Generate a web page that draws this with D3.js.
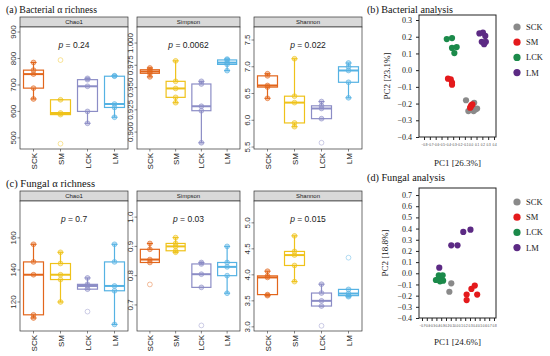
<!DOCTYPE html>
<html><head><meta charset="utf-8">
<script src="https://cdn.jsdelivr.net/npm/d3@7"></script>
<style>body{margin:0;background:#fff} svg{display:block}</style>
</head><body><svg id="c" width="550" height="356"></svg>
<script>
// ---------- data ----------
const groups = ["SCK","SM","LCK","LM"];
const groupColors = ["#E2661C","#EFC21A","#8C8DC6","#55B2E3"];
const facetNames = ["Chao1","Simpson","Shannon"];

const bacChao1   = [[647,688,741,756,785],[478,588,594,644,794],[555,600,695,720,725],[578,615,628,733,735]];
const bacSimpson = [[0.962,0.966,0.968,0.970,0.972],[0.933,0.939,0.949,0.957,0.980],[0.888,0.924,0.929,0.954,0.957],[0.969,0.976,0.978,0.981,0.982]];
const bacShannon = [[6.41,6.62,6.65,6.83,6.87],[5.88,5.95,6.33,6.45,7.15],[5.58,6.03,6.22,6.27,6.35],[6.42,6.71,6.93,7.00,7.07]];
const funChao1   = [[110,112,137,145,156],[120,134,137,144,151],[114,128,130,131,135],[106,127,130,145,156]];
const funSimpson = [[0.77,0.845,0.855,0.89,0.91],[0.88,0.885,0.90,0.91,0.93],[0.63,0.76,0.805,0.84,0.845],[0.74,0.80,0.83,0.845,0.90]];
const funShannon = [[3.60,3.62,3.95,3.98,4.07],[3.87,4.18,4.38,4.45,4.75],[3.02,3.40,3.50,3.65,3.82],[3.58,3.60,3.64,3.72,4.33]];

const bacChao1Ticks   = [500,600,700,800,900];
const bacSimpsonTicks = [0.900,0.925,0.950,0.975,1.000];
const bacShannonTicks = [5.5,6.0,6.5,7.0,7.5];
const funChao1Ticks   = [120,140,160];
const funSimpsonTicks = [0.7,0.8,0.9,1.0];
const funShannonTicks = [3.0,3.5,4.0,4.5,5.0];
const bacPValues = ["0.24","0.0062","0.022"];
const funPValues = ["0.7","0.03","0.015"];

const pcaGroups = ["SCK","SM","LCK","LM"];
const pcaColors = ["#8A8A8A","#E41A1C","#1B8A4A","#5C2A84"];
const bacPcaSCK = [[-0.08,-0.18],[-0.04,-0.245],[0.06,-0.195],[0.11,-0.23],[0.05,-0.245],[0.08,-0.235]];
const bacPcaSM  = [[-0.389,-0.051],[-0.342,-0.055],[-0.32,-0.075],[-0.32,-0.087],[-0.01,-0.225],[0.01,-0.21],[0.03,-0.205],[0.0,-0.22]];
const bacPcaLCK = [[-0.41,0.186],[-0.32,0.192],[-0.32,0.133],[-0.24,0.138],[-0.28,0.102]];
const bacPcaLM  = [[0.15,0.22],[0.21,0.225],[0.25,0.205],[0.19,0.17],[0.23,0.155],[0.26,0.17]];
const funPcaSCK = [[-0.09,-0.09],[-0.13,-0.165]];
const funPcaSM  = [[0.23,-0.19],[0.23,-0.24],[0.33,-0.14],[0.40,-0.11],[0.45,-0.19]];
const funPcaLCK = [[-0.41,-0.06],[-0.35,-0.018],[-0.31,-0.03],[-0.27,-0.018],[-0.26,-0.066],[-0.325,-0.072],[-0.367,-0.054]];
const funPcaLM  = [[-0.34,0.05],[-0.09,0.25],[0.04,0.25],[0.16,0.37],[0.31,0.39]];
const bacPcaXTicks = d3.range(-8,5).map(v=>v/10);
const bacPcaYTicks = [-0.4,-0.3,-0.2,-0.1,0.0,0.1,0.2,0.3];
const funPcaXTicks = d3.range(-7,9).map(v=>v/10);
const funPcaYTicks = [-0.4,-0.3,-0.2,-0.1,0.0,0.1,0.2,0.3,0.4,0.5,0.6,0.7];

// ---------- drawing ----------
const svg = d3.select("#c");
const SANS = "Liberation Sans, Arial, sans-serif";
const SERIF = "Liberation Serif, Times New Roman, serif";

function facet(cfg){
  const {x0,x1,y0,y1,stripH,data,ticks,fmt,domain,name,p} = cfg;
  const g = svg.append("g");
  const x = d3.scalePoint().domain(groups).range([x0,x1]).padding(0.5);
  const y = d3.scaleLinear().domain(domain).range([y1,y0]);
  const bw = (x1-x0)/4*0.74;
  g.append("rect").attr("x",x0).attr("y",y0-stripH).attr("width",x1-x0).attr("height",stripH)
    .attr("fill","#D9D9D9").attr("stroke","#333").attr("stroke-width",0.7);
  g.append("text").attr("x",(x0+x1)/2).attr("y",y0-stripH/2+2).attr("text-anchor","middle")
    .attr("font-family",SANS).attr("font-size",6).attr("fill","#1a1a1a").text(name);
  g.append("rect").attr("x",x0).attr("y",y0).attr("width",x1-x0).attr("height",y1-y0)
    .attr("fill","#fff").attr("stroke","#333").attr("stroke-width",0.7);
  ticks.forEach(t=>{
    const ty=y(t);
    g.append("line").attr("x1",x0-2.5).attr("x2",x0).attr("y1",ty).attr("y2",ty).attr("stroke","#333").attr("stroke-width",0.6);
    g.append("text").attr("transform",`translate(${x0-4.5},${ty}) rotate(-90)`).attr("text-anchor","middle")
      .attr("font-family",SANS).attr("font-size",8).attr("fill","#333").text(fmt(t));
  });
  groups.forEach(gr=>{
    const tx=x(gr);
    g.append("line").attr("x1",tx).attr("x2",tx).attr("y1",y1).attr("y2",y1+2.5).attr("stroke","#333").attr("stroke-width",0.6);
    g.append("text").attr("transform",`translate(${tx+3},${y1+4}) rotate(-90)`).attr("text-anchor","end")
      .attr("font-family",SANS).attr("font-size",8).attr("fill","#1a1a1a").text(gr);
  });
  data.forEach((vals,i)=>{
    const col = groupColors[i];
    const s = vals.slice().sort(d3.ascending);
    const q1=d3.quantile(s,0.25), med=d3.quantile(s,0.5), q3=d3.quantile(s,0.75);
    const iqr=q3-q1, lo=q1-1.5*iqr, hi=q3+1.5*iqr;
    const inside=s.filter(v=>v>=lo&&v<=hi);
    const wlo=d3.min(inside), whi=d3.max(inside);
    const cx=x(groups[i]);
    const bg=g.append("g");
    [[wlo,q1],[q3,whi]].forEach(([a,b])=>{
      if(Math.abs(a-b)>1e-12){
        bg.append("line").attr("x1",cx).attr("x2",cx).attr("y1",y(a)).attr("y2",y(b)).attr("stroke",col).attr("stroke-width",1.2);
      }
    });
    [wlo,whi].forEach(v=>{
      bg.append("line").attr("x1",cx-3).attr("x2",cx+3).attr("y1",y(v)).attr("y2",y(v)).attr("stroke",col).attr("stroke-width",1.1);
    });
    bg.append("rect").attr("x",cx-bw/2).attr("y",y(q3)).attr("width",bw).attr("height",y(q1)-y(q3))
      .attr("fill","#fff").attr("fill-opacity",0.6).attr("stroke",col).attr("stroke-width",1.2);
    bg.append("line").attr("x1",cx-bw/2).attr("x2",cx+bw/2).attr("y1",y(med)).attr("y2",y(med)).attr("stroke",col).attr("stroke-width",2);
    s.forEach(v=>{
      const out = v<lo||v>hi;
      bg.append("circle").attr("cx",cx).attr("cy",y(v)).attr("r",2.4)
        .attr("fill",out?"none":col).attr("fill-opacity",0.4)
        .attr("stroke",col).attr("stroke-opacity",out?0.55:0.75).attr("stroke-width",0.8);
    });
  });
  const pt=g.append("text").attr("x",(x0+x1)/2).attr("y",y0+21).attr("text-anchor","middle")
    .attr("font-family",SANS).attr("font-size",8.5).attr("fill","#1a1a1a");
  pt.append("tspan").attr("font-style","italic").text("p");
  pt.append("tspan").text(" = "+p);
}

const colsX = [[20,128],[137,240],[254,362]];
const fmts = [d3.format("d"), d3.format(".3f"), d3.format(".1f")];
const funFmts = [d3.format("d"), d3.format(".1f"), d3.format(".1f")];
const bacSets = [bacChao1,bacSimpson,bacShannon];
const bacTicks = [bacChao1Ticks,bacSimpsonTicks,bacShannonTicks];
const bacDomains = [[458,919],[0.881,1.018],[5.463,7.743]];
const funSets = [funChao1,funSimpson,funShannon];
const funTicks = [funChao1Ticks,funSimpsonTicks,funShannonTicks];
const funDomains = [[101.9,183],[0.611,1.055],[2.92,5.42]];

for(let k=0;k<3;k++){
  facet({x0:colsX[k][0],x1:colsX[k][1],y0:27,y1:149,stripH:10,data:bacSets[k],ticks:bacTicks[k],fmt:fmts[k],domain:bacDomains[k],name:facetNames[k],p:bacPValues[k]});
  facet({x0:colsX[k][0],x1:colsX[k][1],y0:201,y1:331,stripH:10,data:funSets[k],ticks:funTicks[k],fmt:funFmts[k],domain:funDomains[k],name:facetNames[k],p:funPValues[k]});
}

function title(x,y,t,w){
  svg.append("text").attr("x",x).attr("y",y).attr("font-family",SERIF).attr("font-size",11)
    .attr("fill","#111").attr("textLength",w).attr("lengthAdjust","spacingAndGlyphs").text(t);
}
title(6,13,"(a) Bacterial \u03b1 richness",91);
title(6,187,"(c)  Fungal \u03b1 richness",89);
title(367,13,"(b) Bacterial analysis",86);
title(367,181,"(d) Fungal analysis",78);

function pca(cfg){
  const {x0,x1,y0,y1,xdom,ydom,xticks,yticks,sets,xl,yl,xlY,ylX,legY} = cfg;
  const g=svg.append("g");
  const x=d3.scaleLinear().domain(xdom).range([x0,x1]);
  const y=d3.scaleLinear().domain(ydom).range([y1,y0]);
  g.append("rect").attr("x",x0).attr("y",y0).attr("width",x1-x0).attr("height",y1-y0)
    .attr("fill","none").attr("stroke","#222").attr("stroke-width",1);
  const ya=g.append("g").attr("transform",`translate(${x0},0)`)
    .call(d3.axisLeft(y).tickValues(yticks).tickFormat(d3.format(".1f")).tickSize(3).tickSizeOuter(0));
  ya.select(".domain").remove();
  ya.selectAll("text").attr("font-family",SERIF).attr("font-size",8).attr("fill","#222").attr("dx",-1);
  ya.selectAll("line").attr("stroke","#222");
  const xa=g.append("g").attr("transform",`translate(0,${y1})`)
    .call(d3.axisBottom(x).tickValues(xticks).tickFormat(d3.format(".1f")).tickSize(3).tickSizeOuter(0));
  xa.select(".domain").remove();
  xa.selectAll("text").attr("font-family",SANS).attr("font-size",3).attr("fill","#444").attr("dy",3);
  xa.selectAll("line").attr("stroke","#222");
  g.append("text").attr("x",(x0+x1)/2).attr("y",xlY).attr("text-anchor","middle")
    .attr("font-family",SERIF).attr("font-size",9).attr("fill","#222").text(xl);
  g.append("text").attr("transform",`translate(${ylX},${(y0+y1)/2}) rotate(-90)`).attr("text-anchor","middle")
    .attr("font-family",SERIF).attr("font-size",9).attr("fill","#222").text(yl);
  sets.forEach((pts,i)=>{
    g.selectAll(null).data(pts).enter().append("circle")
      .attr("cx",d=>x(d[0])).attr("cy",d=>y(d[1])).attr("r",3.1).attr("fill",pcaColors[i]);
  });
  pcaGroups.forEach((gr,i)=>{
    const ly=legY+i*15.2;
    g.append("circle").attr("cx",517).attr("cy",ly).attr("r",3.6).attr("fill",pcaColors[i]);
    g.append("text").attr("x",526).attr("y",ly+3).attr("font-family",SERIF).attr("font-size",8.5).attr("fill","#222").text(gr);
  });
}
pca({x0:419,x1:496,y0:15,y1:137,xdom:[-0.886,0.434],ydom:[-0.4,0.33],xticks:bacPcaXTicks,yticks:bacPcaYTicks,
  sets:[bacPcaSCK,bacPcaSM,bacPcaLCK,bacPcaLM],xl:"PC1 [26.3%]",yl:"PC2 [23.1%]",xlY:166,ylX:390,legY:27});
pca({x0:419,x1:496,y0:188,y1:318,xdom:[-0.7625,0.842],ydom:[-0.4,0.763],xticks:funPcaXTicks,yticks:funPcaYTicks,
  sets:[funPcaSCK,funPcaSM,funPcaLCK,funPcaLM],xl:"PC1 [24.6%]",yl:"PC2 [18.8%]",xlY:345,ylX:388,legY:202});
</script></body></html>
